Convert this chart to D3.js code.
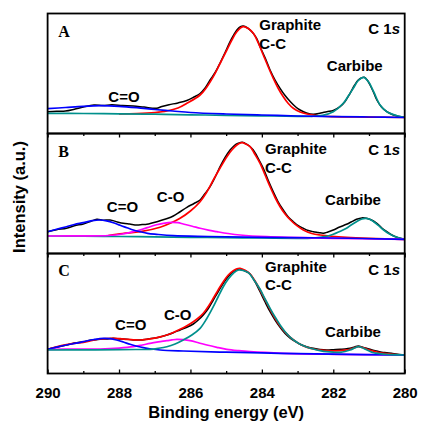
<!DOCTYPE html>
<html>
<head>
<meta charset="utf-8">
<script src="https://cdn.jsdelivr.net/npm/d3@7"></script>
<style>
  body { margin: 0; background: #fff; }
  svg { display: block; }
  .lbl { font-family: "Liberation Sans", Arial, sans-serif; font-weight: bold; fill: #000; }
  .tag { font-family: "Liberation Serif", "Times New Roman", serif; font-weight: bold; fill: #000; }
</style>
</head>
<body>
<svg id="xps" width="422" height="423"></svg>
<script>
// binding energy axis (eV)
var energyDomain = [290, 280];
var majorTicks = [290, 288, 286, 284, 282, 280];
var minorTicks = [289, 287, 285, 283, 281];
var panelNames = ['A', 'B', 'C'];

// panel A : [energy, intensity a.u.]
var rawA = [[290, 21.8], [289.75, 22.3], [289.5, 22.5], [289.25, 24.3], [289.0, 26.5], [288.7, 28.5], [288.45, 28.0], [288.2, 28.7],
  [287.9, 27.9], [287.6, 27.5], [287.3, 26.4], [286.95, 25.2], [286.8, 27.0], [286.6, 28.8], [286.35, 30.6], [286.1, 33.0],
  [285.9, 36.5], [285.73, 40.0], [285.6, 45.0], [285.45, 53.5], [285.3, 61.5], [285.17, 70.5], [285.03, 81.0], [284.89, 91.8],
  [284.78, 99.0], [284.7, 103.5], [284.6, 106.8], [284.52, 107.5], [284.4, 105.5], [284.28, 101.8], [284.15, 95.5], [284.05, 86.8],
  [283.9, 75.0], [283.77, 63.5], [283.63, 53.5], [283.49, 45.2], [283.35, 38.0], [283.2, 31.8], [283.05, 26.5], [282.93, 23.5],
  [282.75, 20.5], [282.56, 19.2], [282.35, 20.5], [282.18, 21.8], [282.0, 23.0], [281.81, 26.8], [281.67, 32.0], [281.53, 40.2],
  [281.4, 48.5], [281.3, 53.5], [281.2, 55.8], [281.13, 56.2], [281.05, 53.5], [280.97, 48.5], [280.87, 41.0], [280.78, 33.5],
  [280.65, 26.5], [280.5, 21.8], [280.35, 19.0], [280.22, 17.5], [280.1, 16.8], [280.0, 16.2]];
var fitGraphiteA = [[288.0, 19.7], [287.5, 20.0], [287.0, 21.0], [286.66, 22.5], [286.35, 25.5], [286.1, 30.2], [285.73, 38.5],
  [285.55, 46.0], [285.36, 56.8], [285.17, 70.0], [284.98, 83.5], [284.84, 93.5], [284.7, 101.8], [284.53, 106.8], [284.38, 105.0],
  [284.24, 100.2], [284.1, 90.5], [283.96, 78.5], [283.82, 66.5], [283.68, 55.2], [283.54, 45.0], [283.4, 36.8], [283.26, 30.0],
  [283.12, 25.2], [282.93, 21.5], [282.74, 19.5], [282.37, 17.5], [282.0, 16.8], [281.0, 16.4], [280.0, 16.0]];
var fitCOA = [[290, 24.8], [289.5, 26.0], [289.0, 27.2], [288.5, 27.8], [288.0, 27.2], [287.5, 25.8], [287.0, 24.0], [286.5, 22.5],
  [286.0, 21.0], [285.0, 19.5], [284.0, 18.5], [283.0, 17.5], [282.0, 16.8], [281.0, 16.5], [280.0, 16.0]];
var fitCarbideA = [[290, 20.2], [289, 20.0], [288, 19.7], [287, 19.3], [286, 18.7], [285, 18.2], [284, 17.7], [283, 17.2],
  [282.6, 17.2], [282.3, 18.2], [282.0, 21.8], [281.72, 30.2], [281.58, 37.5], [281.44, 45.2], [281.3, 53.0], [281.15, 56.2],
  [281.0, 51.0], [280.87, 41.8], [280.69, 28.5], [280.5, 21.8], [280.22, 17.8], [280.0, 16.2]];

// panel B
var rawB = [[290, 21.8], [289.75, 23.8], [289.47, 25.2], [289.25, 27.8], [289.0, 29.5], [288.8, 32.0], [288.62, 34.2], [288.45, 33.3],
  [288.25, 33.5], [288.05, 31.6], [287.88, 30.2], [287.7, 29.4], [287.5, 28.5], [287.35, 28.9], [287.22, 29.2], [287.05, 30.8],
  [286.85, 32.8], [286.65, 35.0], [286.48, 37.5], [286.3, 41.5], [286.1, 46.2], [285.9, 50.0], [285.73, 53.5], [285.6, 59.5],
  [285.45, 66.8], [285.3, 77.0], [285.17, 86.8], [285.03, 96.0], [284.89, 103.5], [284.77, 108.0], [284.66, 110.2], [284.55, 111.3],
  [284.47, 110.2], [284.35, 107.5], [284.24, 103.5], [284.1, 95.0], [283.96, 85.2], [283.82, 73.0], [283.68, 61.8], [283.54, 51.5],
  [283.4, 43.5], [283.26, 36.5], [283.12, 31.8], [282.98, 27.8], [282.84, 25.2], [282.7, 23.0], [282.56, 21.8], [282.42, 21.0],
  [282.28, 20.2], [282.15, 21.5], [282.0, 23.5], [281.82, 26.5], [281.63, 29.2], [281.5, 31.5], [281.35, 34.2], [281.2, 35.6],
  [281.07, 35.2], [280.93, 33.5], [280.78, 30.2], [280.64, 25.5], [280.5, 21.8], [280.36, 18.5], [280.22, 16.2], [280.1, 15.0], [280.0, 14.2]];
var fitGraphiteB = [[288.3, 18.0], [287.9, 20.0], [287.4, 21.8], [286.85, 26.2], [286.55, 30.5], [286.29, 35.2], [286.0, 42.5],
  [285.73, 51.8], [285.55, 61.0], [285.36, 73.5], [285.17, 85.5], [284.98, 96.8], [284.84, 103.5], [284.7, 108.5], [284.56, 110.8],
  [284.45, 109.5], [284.33, 106.8], [284.2, 99.5], [284.05, 90.2], [283.91, 78.5], [283.77, 66.8], [283.63, 56.0], [283.49, 46.8],
  [283.35, 39.5], [283.2, 33.5], [283.02, 27.8], [282.84, 23.5], [282.6, 20.0], [282.37, 18.5], [281.63, 16.2], [280.0, 14.2]];
var fitCOB = [[290, 21.8], [289.75, 24.2], [289.47, 26.8], [289.25, 29.0], [289.0, 30.8], [288.75, 32.8], [288.53, 33.5], [288.35, 32.6],
  [288.16, 30.8], [287.97, 28.2], [287.78, 25.8], [287.6, 23.5], [287.41, 21.8], [287.2, 20.2], [286.95, 19.2], [286.48, 17.8],
  [285.5, 17.0], [284.0, 16.2], [282.0, 15.5], [280.0, 14.2]];
var fitCOhB = [[290, 17.5], [289.0, 17.6], [288.3, 18.0], [287.9, 19.5], [287.6, 21.8], [287.35, 24.3], [287.13, 26.8], [286.95, 28.8],
  [286.76, 30.2], [286.52, 31.2], [286.35, 30.8], [286.2, 29.5], [285.95, 27.3], [285.73, 25.2], [285.5, 23.3], [285.26, 21.8],
  [284.95, 20.0], [284.61, 18.5], [283.86, 16.8], [282.0, 15.2], [280.0, 14.2]];
var fitCarbideB = [[290, 17.5], [289, 17.3], [288, 17.0], [287, 16.6], [286, 16.2], [285, 15.8], [284, 15.5], [283, 15.2],
  [282.6, 15.4], [282.37, 16.2], [282.15, 17.5], [282.0, 19.2], [281.82, 22.0], [281.63, 25.2], [281.5, 28.5], [281.35, 31.8],
  [281.2, 34.5], [281.1, 35.2], [280.98, 34.3], [280.87, 31.8], [280.73, 27.8], [280.59, 23.5], [280.45, 20.0], [280.31, 17.5],
  [280.15, 15.5], [280.0, 14.2]];

// panel C
var rawC = [[290, 24.2], [289.75, 26.2], [289.47, 28.5], [289.25, 30.4], [289.0, 31.8], [288.75, 33.4], [288.53, 34.2], [288.35, 34.6],
  [288.16, 35.2], [287.97, 34.6], [287.78, 34.2], [287.6, 33.5], [287.41, 33.5], [287.22, 34.3], [287.04, 35.2], [286.85, 36.6],
  [286.66, 38.5], [286.48, 40.8], [286.29, 43.5], [286.1, 46.2], [285.92, 49.5], [285.78, 53.5], [285.64, 58.5], [285.5, 65.0],
  [285.36, 73.5], [285.22, 82.0], [285.08, 90.2], [284.94, 97.0], [284.8, 101.8], [284.7, 103.5], [284.61, 104.2], [284.47, 102.5],
  [284.33, 99.5], [284.19, 91.5], [284.05, 81.8], [283.91, 71.5], [283.77, 61.8], [283.63, 53.5], [283.49, 46.2], [283.35, 40.0],
  [283.2, 35.2], [283.06, 31.8], [282.93, 29.2], [282.75, 26.8], [282.56, 25.2], [282.37, 24.0], [282.18, 23.5], [282.0, 23.8],
  [281.81, 24.2], [281.67, 24.5], [281.53, 25.2], [281.4, 26.6], [281.3, 27.5], [281.18, 26.3], [281.07, 25.2], [280.93, 23.8],
  [280.78, 22.5], [280.64, 21.3], [280.5, 20.8], [280.25, 19.5], [280.0, 18.5]];
var fitEnvelopeC = [[290, 24.2], [289.75, 26.6], [289.47, 28.8], [289.25, 30.2], [289.0, 31.2], [288.75, 33.0], [288.53, 34.5], [288.35, 35.0],
  [288.16, 35.2], [287.97, 34.8], [287.78, 34.2], [287.6, 33.7], [287.41, 33.5], [287.22, 34.2], [287.04, 35.2], [286.85, 36.6],
  [286.66, 38.5], [286.48, 41.0], [286.29, 44.2], [286.1, 47.8], [285.92, 51.8], [285.78, 55.5], [285.64, 60.2], [285.5, 67.0],
  [285.36, 75.2], [285.22, 83.8], [285.08, 91.8], [284.94, 98.5], [284.8, 102.8], [284.7, 104.8], [284.61, 105.2], [284.47, 103.3],
  [284.33, 99.5], [284.19, 92.5], [284.05, 83.5], [283.91, 73.8], [283.77, 64.2], [283.63, 55.3], [283.49, 47.5], [283.35, 41.3],
  [283.2, 36.2], [283.06, 32.3], [282.93, 29.2], [282.75, 26.4], [282.56, 24.5], [282.37, 23.4], [282.18, 22.8], [282.0, 22.7],
  [281.81, 22.8], [281.67, 23.3], [281.53, 24.2], [281.4, 25.8], [281.3, 26.8], [281.18, 25.9], [281.07, 24.5], [280.93, 22.9],
  [280.78, 21.5], [280.64, 20.5], [280.5, 19.8], [280.25, 19.0], [280.0, 18.5]];
var fitGraphiteC = [[290, 23.5], [289.0, 23.6], [288.0, 23.8], [287.5, 24.0], [287.13, 24.2], [286.9, 25.2], [286.66, 26.8], [286.43, 29.5],
  [286.2, 33.5], [285.96, 38.5], [285.73, 45.2], [285.55, 54.5], [285.36, 66.8], [285.22, 77.0], [285.08, 86.8], [284.94, 94.5],
  [284.8, 100.2], [284.66, 103.5], [284.52, 103.0], [284.38, 100.8], [284.22, 93.5], [284.05, 84.2], [283.91, 74.5], [283.77, 65.2],
  [283.63, 56.5], [283.49, 48.5], [283.35, 41.8], [283.2, 36.2], [283.06, 32.2], [282.93, 29.2], [282.75, 26.5], [282.56, 24.5],
  [282.37, 22.9], [282.18, 21.8], [282.0, 21.3], [281.81, 21.2], [281.67, 22.0], [281.53, 23.5], [281.4, 25.5], [281.3, 26.8],
  [281.2, 26.0], [281.1, 24.2], [280.98, 22.3], [280.87, 20.8], [280.7, 19.9], [280.5, 19.2], [280.0, 18.5]];
var fitCOC = [[290, 24.2], [289.75, 26.3], [289.47, 28.5], [289.2, 30.3], [289.0, 31.8], [288.7, 34.0], [288.44, 35.2], [288.25, 34.8],
  [288.07, 33.5], [287.88, 31.5], [287.69, 29.2], [287.5, 27.3], [287.32, 25.8], [287.1, 24.5], [286.85, 23.5], [286.2, 22.5],
  [285.0, 21.3], [283.5, 20.2], [282.0, 19.3], [280.0, 18.5]];
var fitCOhC = [[290, 24.2], [289.0, 24.4], [288.53, 24.5], [288.0, 25.4], [287.6, 26.8], [287.35, 28.5], [287.13, 30.2], [286.9, 31.6],
  [286.66, 32.8], [286.52, 33.6], [286.38, 34.2], [286.2, 33.8], [286.01, 32.8], [285.78, 30.8], [285.54, 28.5], [285.26, 26.2],
  [284.98, 24.2], [284.65, 22.8], [284.33, 21.8], [283.4, 20.2], [282.0, 19.2], [280.0, 18.5]];

// annotations : [text, energy, intensity, anchor]
var notesA = [['Graphite', 284.07, 103.5, 'start'], ['C-C', 284.07, 84.2, 'start'], ['Carbibe', 282.18, 62.8, 'start'], ['C=O', 288.3, 31.8, 'start']];
var notesB = [['Graphite', 283.91, 99.5, 'start'], ['C-C', 283.91, 80.2, 'start'], ['Carbibe', 282.23, 48.5, 'start'], ['C=O', 288.34, 41.8, 'start'], ['C-O', 286.94, 51.8, 'start']];
var notesC = [['Graphite', 283.91, 101.8, 'start'], ['C-C', 283.91, 83.5, 'start'], ['Carbibe', 282.23, 36.2, 'start'], ['C=O', 288.11, 43.5, 'start'], ['C-O', 286.74, 53.5, 'start']];

// draw order: measured spectrum, red fit, then the other components on top
var panels = [
  { name: 'A', lines: [[rawA, '#000000'], [fitGraphiteA, '#ff0000'], [fitCarbideA, '#00908c'], [fitCOA, '#0000ff']], notes: notesA, tagY: 96.8, c1sY: 100 },
  { name: 'B', lines: [[rawB, '#000000'], [fitGraphiteB, '#ff0000'], [fitCarbideB, '#00908c'], [fitCOhB, '#ff00ff'], [fitCOB, '#0000ff']], notes: notesB, tagY: 96.8, c1sY: 98.5 },
  { name: 'C', lines: [[rawC, '#000000'], [fitEnvelopeC, '#ff0000'], [fitCOhC, '#ff00ff'], [fitCOC, '#0000ff'], [fitGraphiteC, '#00908c']], notes: notesC, tagY: 97.5, c1sY: 98.5 }
];

var svg = d3.select("#xps");
var margin = { top: 13.5, left: 47.6, right: 17.3 };
var panelHeight = 120;
var plotWidth = 422 - margin.left - margin.right;

var xScale = d3.scaleLinear().domain(energyDomain).range([0, plotWidth]);
var yScale = d3.scaleLinear().domain([0, 120]).range([panelHeight, 0]);

var lineGen = d3.line()
  .x(function(d) { return xScale(d[0]); })
  .y(function(d) { return yScale(d[1]); })
  .curve(d3.curveCatmullRom.alpha(0.5));

panels.forEach(function(p, i) {
  var last = i === panels.length - 1;
  var g = svg.append("g")
    .attr("transform", translate(margin.left, margin.top + i * panelHeight));

  p.lines.forEach(function(l) {
    g.append("path")
      .datum(l[0])
      .attr("fill", "none")
      .attr("stroke", l[1])
      .attr("stroke-width", l[1] === '#000000' ? 1.5 : 1.7)
      .attr("stroke-linejoin", "round")
      .attr("d", lineGen);
  });

  // ticks: A and B point down, C points up into the plot
  var dir = last ? -1 : 1;
  var major = d3.axisBottom(xScale).tickValues(majorTicks).tickSizeOuter(0)
    .tickSizeInner(4 * dir).tickPadding(last ? 13.5 : 3)
    .tickFormat(last ? d3.format("d") : "");
  var minor = d3.axisBottom(xScale).tickValues(minorTicks).tickSizeOuter(0)
    .tickSizeInner(2.5 * dir).tickFormat("");

  var ax = g.append("g").attr("transform", translate(0, panelHeight)).call(major);
  g.append("g").attr("transform", translate(0, panelHeight)).call(minor)
    .select(".domain").remove();
  ax.select(".domain").remove();
  g.selectAll(".tick line").attr("stroke", "#000").attr("stroke-width", 1.3);
  ax.selectAll("text")
    .attr("class", "lbl")
    .style("font-size", "15px");

  g.append("rect")
    .attr("width", plotWidth)
    .attr("height", panelHeight)
    .attr("fill", "none")
    .attr("stroke", "#000")
    .attr("stroke-width", 1.8);

  g.selectAll(".note")
    .data(p.notes)
    .enter()
    .append("text")
    .attr("class", "lbl note")
    .attr("x", function(d) { return xScale(d[1]); })
    .attr("y", function(d) { return yScale(d[2]); })
    .attr("text-anchor", function(d) { return d[3]; })
    .style("font-size", "15px")
    .text(function(d) { return d[0]; });

  g.append("text")
    .attr("class", "tag")
    .attr("x", xScale(289.7))
    .attr("y", yScale(p.tagY))
    .style("font-size", "16px")
    .text(p.name);

  var c1s = g.append("text")
    .attr("class", "lbl")
    .attr("x", xScale(280.13))
    .attr("y", yScale(p.c1sY))
    .attr("text-anchor", "end")
    .style("font-size", "15px");
  c1s.append("tspan").text("C 1");
  c1s.append("tspan").style("font-style", "italic").text("s");
});

svg.append("text")
  .attr("class", "lbl")
  .attr("x", margin.left + plotWidth / 2)
  .attr("y", 418)
  .attr("text-anchor", "middle")
  .style("font-size", "16.5px")
  .text("Binding energy (eV)");

svg.append("text")
  .attr("class", "lbl")
  .attr("transform", "translate(24.5,197) rotate(-90)")
  .attr("text-anchor", "middle")
  .style("font-size", "16.5px")
  .text("Intensity (a.u.)");

function translate(x, y) {
  return "translate(" + x + "," + y + ")";
}
</script>
</body>
</html>
